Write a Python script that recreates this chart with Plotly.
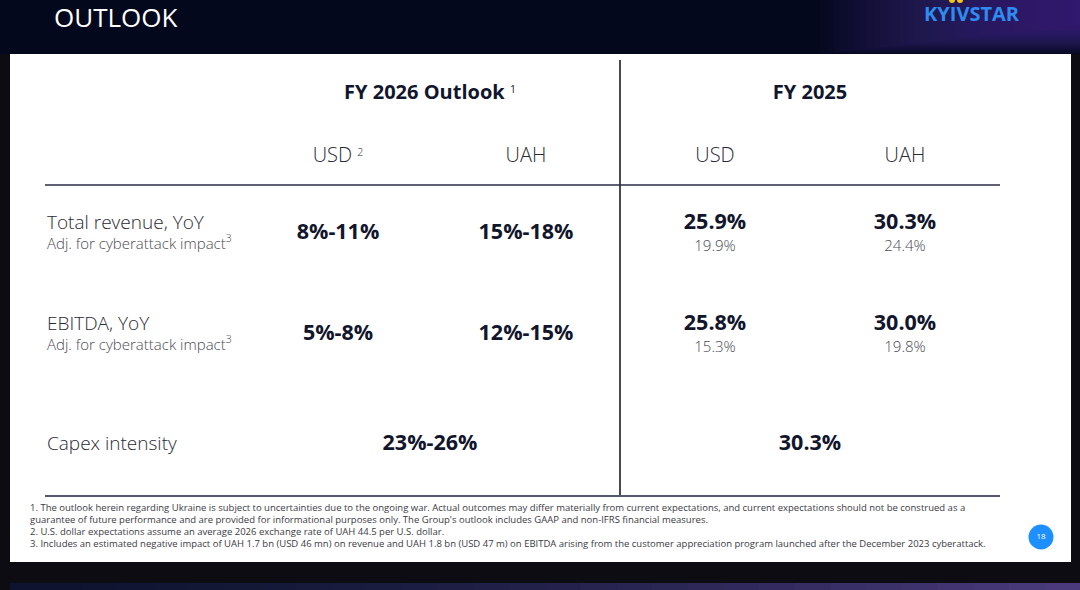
import plotly.graph_objects as go

# slide content
row_labels = ["Total revenue, YoY", "EBITDA, YoY", "Capex intensity"]
row_notes = ["Adj. for cyberattack impact<sup>3</sup>", "Adj. for cyberattack impact<sup>3</sup>"]

outlook_usd = ["8%-11%", "5%-8%"]
outlook_uah = ["15%-18%", "12%-15%"]
fy25_usd = ["25.9%", "25.8%"]
fy25_usd_adj = ["19.9%", "15.3%"]
fy25_uah = ["30.3%", "30.0%"]
fy25_uah_adj = ["24.4%", "19.8%"]
capex = ["23%-26%", "30.3%"]

SUP = '<span style="font-size:15px"><sup>{}</sup></span>'
group_titles = ["<b>FY 2026 Outlook</b> " + SUP.format(1), "<b>FY 2025</b>"]
col_titles = ["USD " + SUP.format(2), "UAH", "USD", "UAH"]

footnotes = [
    "1. The outlook herein regarding Ukraine is subject to uncertainties due to the ongoing war. Actual outcomes may differ materially from current expectations, and current expectations should not be construed as a",
    "guarantee of future performance and are provided for informational purposes only. The Group's outlook includes GAAP and non-IFRS financial measures.",
    "2. U.S. dollar expectations assume an average 2026 exchange rate of UAH 44.5 per U.S. dollar.",
    "3. Includes an estimated negative impact of UAH 1.7 bn (USD 46 mn) on revenue and UAH 1.8 bn (USD 47 m) on EBITDA arising from the customer appreciation program launched after the December 2023 cyberattack.",
]

FONT = "Open Sans"
NAVY = "#12162c"
GREY = "#4a4a55"

col_x = [338, 526, 715, 905]
group_x = [430, 810]
row_y = [234, 335, 445]

fig = go.Figure()

# group headers
fig.add_trace(go.Scatter(x=group_x, y=[94, 94], mode="text", text=group_titles,
                         textfont=dict(family=FONT, size=20, color=NAVY), hoverinfo="skip"))
# column headers
fig.add_trace(go.Scatter(x=col_x, y=[157] * 4, mode="text", text=col_titles,
                         textfont=dict(family=FONT, size=20, color="#2a2a35", weight=300), hoverinfo="skip"))

# row labels
fig.add_trace(go.Scatter(x=[47] * 3, y=[row_y[0] - 10, row_y[1] - 10, row_y[2]], mode="text",
                         text=row_labels, textposition="middle right",
                         textfont=dict(family=FONT, size=19, color="#2a2a35", weight=300), hoverinfo="skip"))
fig.add_trace(go.Scatter(x=[47] * 2, y=[row_y[0] + 11, row_y[1] + 11], mode="text",
                         text=row_notes, textposition="middle right",
                         textfont=dict(family=FONT, size=15, color=GREY, weight=300), hoverinfo="skip"))

# FY 2026 outlook values
fig.add_trace(go.Scatter(x=[col_x[0]] * 2 + [col_x[1]] * 2, y=row_y[:2] * 2, mode="text",
                         text=[f"<b>{v}</b>" for v in outlook_usd + outlook_uah],
                         textfont=dict(family=FONT, size=21.5, color=NAVY), hoverinfo="skip"))

# FY 2025 values and adjusted values
fig.add_trace(go.Scatter(x=[col_x[2]] * 2 + [col_x[3]] * 2, y=[y - 10 for y in row_y[:2]] * 2, mode="text",
                         text=[f"<b>{v}</b>" for v in fy25_usd + fy25_uah],
                         textfont=dict(family=FONT, size=21.5, color=NAVY), hoverinfo="skip"))
fig.add_trace(go.Scatter(x=[col_x[2]] * 2 + [col_x[3]] * 2, y=[y + 13 for y in row_y[:2]] * 2, mode="text",
                         text=fy25_usd_adj + fy25_uah_adj,
                         textfont=dict(family=FONT, size=15, color=GREY, weight=300), hoverinfo="skip"))

# capex row
fig.add_trace(go.Scatter(x=group_x, y=[row_y[2]] * 2, mode="text", text=[f"<b>{v}</b>" for v in capex],
                         textfont=dict(family=FONT, size=21.5, color=NAVY), hoverinfo="skip"))

# page number
fig.add_trace(go.Scatter(x=[1041], y=[537], mode="markers+text", text=["18"],
                         marker=dict(size=25, color="#1e8fff"),
                         textfont=dict(family=FONT, size=8, color="white"), hoverinfo="skip"))


def mix(c1, c2, t):
    a = [int(c1[i:i + 2], 16) for i in (1, 3, 5)]
    b = [int(c2[i:i + 2], 16) for i in (1, 3, 5)]
    return "#" + "".join(f"{round(a[k] + (b[k] - a[k]) * t):02x}" for k in range(3))


shapes = [
    dict(type="rect", x0=0, x1=1080, y0=0, y1=54, fillcolor="#04081c", line_width=0, layer="below"),
]
# purple glow at the top right of the header band
n = 40
for i in range(n):
    t = i / (n - 1)
    x0 = 820 + 260 * t
    shapes.append(dict(type="rect", x0=x0, x1=1080, y0=0, y1=54 - 30 * t,
                       fillcolor="#4a3888", opacity=0.045, line_width=0, layer="below"))
shapes += [
    # white content panel
    dict(type="rect", x0=10, x1=1071, y0=54, y1=562, fillcolor="white", line_width=0, layer="below"),
]
# bottom band gradient
m = 30
for i in range(m):
    x0 = 10 + i * 1070 / m
    shapes.append(dict(type="rect", x0=x0, x1=x0 + 1070 / m + 1, y0=583, y1=590,
                       fillcolor=mix("#0e1430", "#4a3a7c", (i / (m - 1)) ** 1.5), line_width=0, layer="below"))
shapes += [
    # logo accent
    dict(type="circle", x0=949, x1=955, y0=-3, y1=3, fillcolor="#f5c518", line_width=0),
    dict(type="circle", x0=957, x1=963, y0=-3, y1=3, fillcolor="#f5c518", line_width=0),
    # table rules
    dict(type="line", x0=620, x1=620, y0=60, y1=496, line=dict(color="#0a0c20", width=1.5)),
    dict(type="line", x0=45, x1=1000, y0=185, y1=185, line=dict(color="#2a2c44", width=1.5)),
    dict(type="line", x0=45, x1=1000, y0=496, y1=496, line=dict(color="#55586e", width=2)),
]

annotations = [
    dict(x=52, y=17, text="OUTLOOK", showarrow=False, xanchor="left", yanchor="middle",
         font=dict(family="Open Sans", size=26, color="white", weight=500)),
    dict(x=972, y=13, text="<b>KYIVSTAR</b>", showarrow=False, xanchor="center", yanchor="middle",
         font=dict(family="Open Sans", size=20, color="#2e8cf0", weight=800)),
]
for i, line in enumerate(footnotes):
    annotations.append(dict(x=28, y=507 + 12 * i, text=line, showarrow=False, xanchor="left", yanchor="middle",
                            font=dict(family="Open Sans", size=9.5, color="#3a3a44")))

fig.update_layout(
    width=1080, height=590,
    margin=dict(l=0, r=0, t=0, b=0),
    paper_bgcolor="#0c0c12", plot_bgcolor="#0c0c12",
    showlegend=False,
    shapes=shapes,
    annotations=annotations,
    xaxis=dict(range=[0, 1080], visible=False, fixedrange=True),
    yaxis=dict(range=[590, 0], visible=False, fixedrange=True),
)

fig.write_html("out.html", config={"displayModeBar": False},
               post_script="document.body.style.margin='0';")
